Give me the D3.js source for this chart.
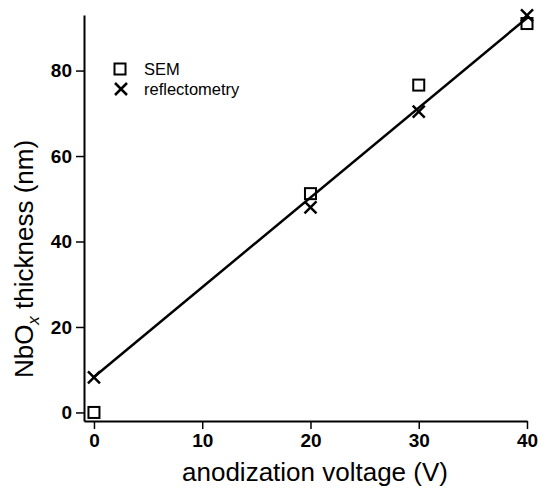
<!DOCTYPE html>
<html>
<head>
<meta charset="utf-8">
<script src="https://cdn.jsdelivr.net/npm/d3@7"></script>
<style>
  body { margin: 0; background: #fff; }
  svg { display: block; font-family: "Liberation Sans", Arial, sans-serif; }
</style>
</head>
<body>
<div id="chart"></div>
<script>
const xTicks = [0, 10, 20, 30, 40];
const yTicks = [0, 20, 40, 60, 80];

const semVoltage = [0, 20, 30, 40];
const semThickness = [0, 51.2, 76.6, 91];

const reflVoltage = [0, 20, 30, 40];
const reflThickness = [8.2, 48, 70.4, 92.9];

// linear fit drawn through the points
const fitVoltage = [0, 40];
const fitThickness = [8.3, 92.3];

const width = 538, height = 491;
const margin = { top: 15, right: 11, bottom: 70, left: 84 };

const svg = d3.select("#chart").append("svg")
    .attr("width", width).attr("height", height);

const x = d3.scaleLinear()
    .domain([-0.92, 40])
    .range([margin.left, width - margin.right]);

const y = d3.scaleLinear()
    .domain([-2, 93])
    .range([height - margin.bottom, margin.top]);

const xAxis = svg.append("g")
    .attr("transform", `translate(0,${height - margin.bottom})`)
    .call(d3.axisBottom(x).tickValues(xTicks).tickSize(8).tickSizeOuter(0).tickPadding(5));

const yAxis = svg.append("g")
    .attr("transform", `translate(${margin.left},0)`)
    .call(d3.axisLeft(y).tickValues(yTicks).tickSize(8).tickSizeOuter(0).tickPadding(4));

[xAxis, yAxis].forEach(g => {
    g.select(".domain").attr("stroke", "#000").attr("stroke-width", 2);
    g.selectAll(".tick line").attr("stroke", "#000").attr("stroke-width", 1.5);
    g.selectAll(".tick text").attr("fill", "#000")
        .style("font-size", "19px").style("font-weight", "bold");
});

// fit line
const fit = fitVoltage.map((v, i) => [v, fitThickness[i]]);
svg.append("path")
    .datum(fit)
    .attr("fill", "none").attr("stroke", "#000").attr("stroke-width", 2.5)
    .attr("d", d3.line().x(d => x(d[0])).y(d => y(d[1])));

function square(g, cx, cy) {
    g.append("rect")
        .attr("x", cx - 5.5).attr("y", cy - 5.5)
        .attr("width", 11).attr("height", 11)
        .attr("fill", "none").attr("stroke", "#000").attr("stroke-width", 2);
}
function cross(g, cx, cy) {
    const s = 6;
    g.append("path")
        .attr("d", `M${cx - s},${cy - s}L${cx + s},${cy + s}M${cx - s},${cy + s}L${cx + s},${cy - s}`)
        .attr("stroke", "#000").attr("stroke-width", 2.5).attr("fill", "none");
}

const marks = svg.append("g");
semVoltage.forEach((v, i) => square(marks, x(v), y(semThickness[i])));
reflVoltage.forEach((v, i) => cross(marks, x(v), y(reflThickness[i])));

// legend
const legend = svg.append("g");
square(legend, 120, 69);
cross(legend, 121, 89);
legend.append("text").attr("x", 144).attr("y", 75)
    .style("font-size", "16.5px").text("SEM");
legend.append("text").attr("x", 144).attr("y", 95)
    .style("font-size", "16.5px").text("reflectometry");

// axis titles
svg.append("text")
    .attr("x", 315).attr("y", 481)
    .attr("text-anchor", "middle")
    .style("font-size", "26px")
    .text("anodization voltage (V)");

const yTitle = svg.append("text")
    .attr("transform", `translate(33,259) rotate(-90)`)
    .attr("text-anchor", "middle")
    .style("font-size", "26px");
yTitle.append("tspan").text("NbO");
yTitle.append("tspan").attr("dy", 6).style("font-size", "17px").style("font-style", "italic").text("x");
yTitle.append("tspan").attr("dy", -6).text(" thickness (nm)");
</script>
</body>
</html>
